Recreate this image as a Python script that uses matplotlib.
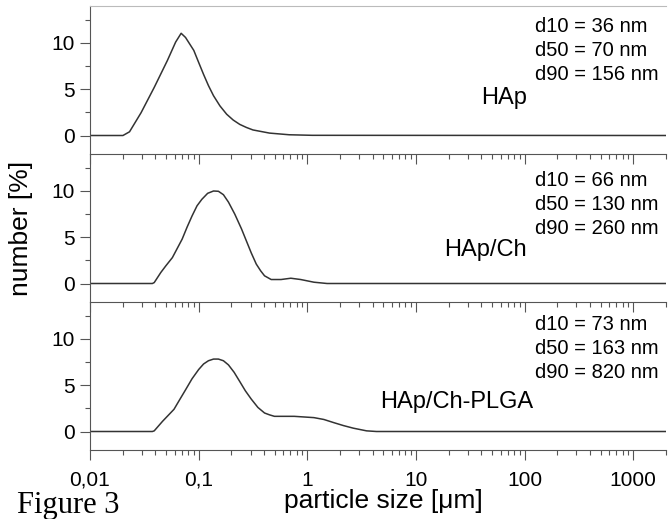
import matplotlib
matplotlib.use('Agg')
import matplotlib.pyplot as plt
from matplotlib.ticker import FixedLocator, FixedFormatter, LogLocator, MultipleLocator, NullFormatter

plt.rcParams['font.family'] = ['Liberation Sans', 'DejaVu Sans']

# particle size [um] and number [%]
size_hap = [0.01, 0.0201, 0.0231, 0.0295, 0.039, 0.0515, 0.0614, 0.069, 0.0757, 0.0902,
            0.1, 0.111, 0.123, 0.137, 0.157, 0.181, 0.208, 0.239, 0.275, 0.316,
            0.449, 0.681, 1.11, 2000]
num_hap = [0, 0, 0.4, 2.46, 5.2, 8.1, 10.1, 11.05, 10.6, 9.2,
           7.9, 6.6, 5.4, 4.3, 3.2, 2.3, 1.67, 1.2, 0.87, 0.6,
           0.26, 0.08, 0.02, 0]

size_hap_ch = [0.01, 0.0375, 0.039, 0.0449, 0.0498, 0.0573, 0.0705, 0.0783, 0.0869, 0.0966,
               0.107, 0.121, 0.137, 0.152, 0.169, 0.188, 0.215, 0.248, 0.275, 0.305,
               0.339, 0.372, 0.404, 0.465, 0.573, 0.705, 0.869, 1.15, 1.52, 2000]
num_hap_ch = [0, 0, 0.1, 1.2, 1.9, 2.8, 4.8, 6.1, 7.3, 8.4,
              9.1, 9.75, 10.0, 9.97, 9.6, 8.8, 7.5, 5.9, 4.6, 3.3,
              2.1, 1.37, 0.83, 0.43, 0.43, 0.57, 0.43, 0.14, 0, 0]

size_plga = [0.01, 0.0375, 0.039, 0.0465, 0.0593, 0.0658, 0.0757, 0.0869, 0.1, 0.111,
             0.123, 0.137, 0.152, 0.169, 0.188, 0.212, 0.239, 0.269, 0.305, 0.351,
             0.404, 0.449, 0.498, 0.757, 1.15, 1.42, 1.75, 2.15, 2.65, 3.51,
             4.33, 2000]
num_plga = [0, 0, 0.07, 1.1, 2.4, 3.3, 4.5, 5.7, 6.7, 7.3,
            7.65, 7.83, 7.83, 7.65, 7.2, 6.4, 5.4, 4.4, 3.5, 2.6,
            2.0, 1.8, 1.64, 1.64, 1.5, 1.3, 0.96, 0.64, 0.36, 0.07,
            0, 0]

sample_names = ['HAp', 'HAp/Ch', 'HAp/Ch-PLGA']
d10 = [36, 66, 73]
d50 = [70, 130, 163]
d90 = [156, 260, 820]

xticks = [0.01, 0.1, 1, 10, 100, 1000]
xtick_labels = ['0,01', '0,1', '1', '10', '100', '1000']

W, H = 668, 519
fig = plt.figure(figsize=(W / 100, H / 100), dpi=100)

series = [(size_hap, num_hap), (size_hap_ch, num_hap_ch), (size_plga, num_plga)]
panel_tops = [6, 154, 302]
panel_h = 148
left, right = 90, 666

for i, (xs, ys) in enumerate(series):
    top = panel_tops[i]
    ax = fig.add_axes([left / W, (H - top - panel_h) / H, (right - left) / W, panel_h / H])
    ax.plot(xs, ys, color='#333333', lw=1.1)
    ax.set_xscale('log')
    ax.set_xlim(0.01, 2000)
    ax.set_ylim(-2, 14)

    ax.xaxis.set_major_locator(FixedLocator(xticks))
    ax.xaxis.set_minor_locator(LogLocator(base=10, subs=range(2, 10), numticks=20))
    ax.xaxis.set_minor_formatter(NullFormatter())
    if i == 2:
        ax.xaxis.set_major_formatter(FixedFormatter(xtick_labels))
    else:
        ax.xaxis.set_major_formatter(NullFormatter())

    ax.yaxis.set_major_locator(FixedLocator([0, 5, 10]))
    ax.yaxis.set_minor_locator(MultipleLocator(2.5))

    ax.tick_params(which='major', direction='out', length=7, width=0.8, color='#555555',
                   labelsize=15, pad=4)
    ax.tick_params(which='minor', direction='out', length=3.5, width=0.8, color='#555555')
    ax.tick_params(axis='x', which='major', pad=8)

    ax.spines['right'].set_visible(False)
    ax.spines['left'].set_color('#555555')
    ax.spines['bottom'].set_color('#555555')
    if i == 0:
        ax.spines['top'].set_color('#bbbbbb')
    else:
        ax.spines['top'].set_visible(False)

    ax.patch.set_alpha(0)

# annotations (pixel positions from the reference)
d_rows = [(26, 50, 75, 98, 527), (180, 204, 229, 250, 527), (325, 349, 373, 402, 533)]
for i, (y1, y2, y3, yl, xl) in enumerate(d_rows):
    fig.text(535 / W, 1 - y1 / H, f'd10 = {d10[i]} nm', fontsize=14.5, ha='left', va='center')
    fig.text(535 / W, 1 - y2 / H, f'd50 = {d50[i]} nm', fontsize=14.5, ha='left', va='center')
    fig.text(535 / W, 1 - y3 / H, f'd90 = {d90[i]} nm', fontsize=14.5, ha='left', va='center')
    fig.text(xl / W, 1 - yl / H, sample_names[i], fontsize=17, ha='right', va='center')

fig.text(21 / W, 1 - 228 / H, 'number [%]', fontsize=19, rotation=90, ha='center', va='center')
fig.text(383 / W, 1 - 501 / H, 'particle size [\u03bcm]', fontsize=19, ha='center', va='center')
fig.text(17 / W, 1 - 505 / H, 'Figure 3', fontsize=22, ha='left', va='center',
         family=['Liberation Serif', 'DejaVu Serif'])

fig.savefig('out.png', dpi=100)
